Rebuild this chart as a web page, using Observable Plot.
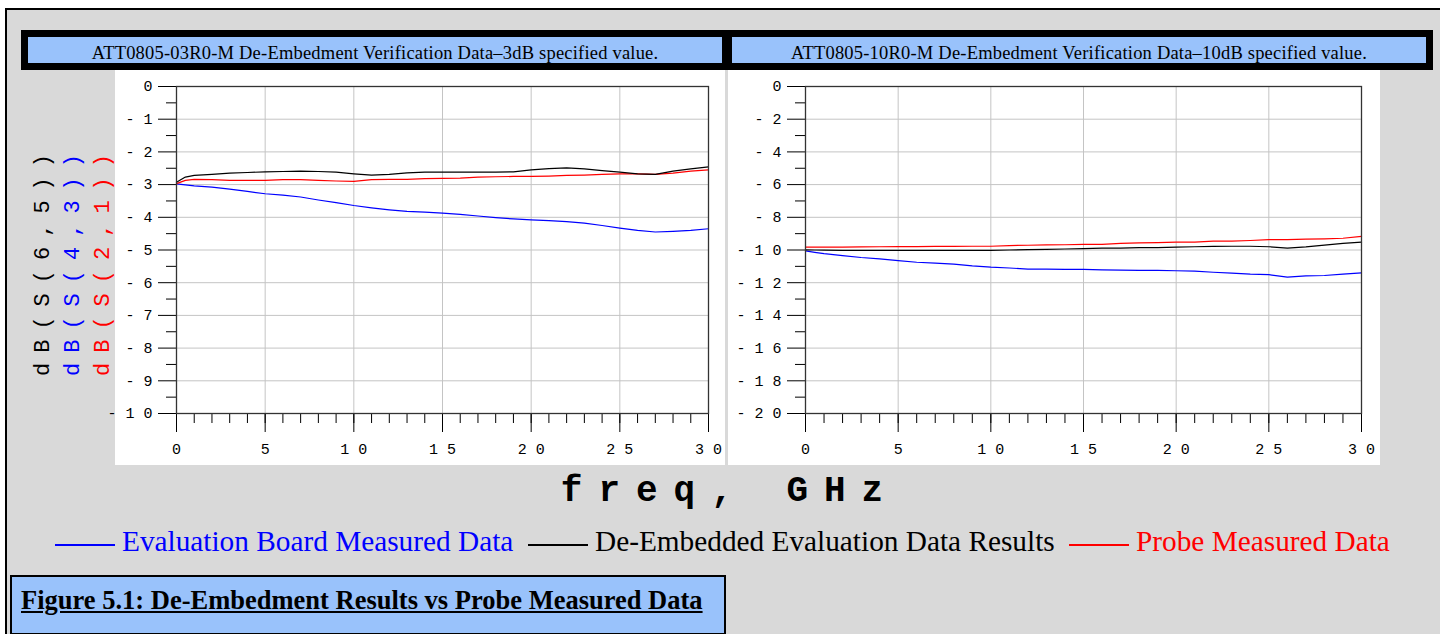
<!DOCTYPE html>
<html>
<head>
<meta charset="utf-8">
<script src="https://cdn.jsdelivr.net/npm/d3@7"></script>
<script src="https://cdn.jsdelivr.net/npm/@observablehq/plot@0.6"></script>
<style>
  html, body { margin: 0; padding: 0; background: #fff; }
  #page { position: relative; width: 1440px; height: 634px; overflow: hidden; }
  #frame { position: absolute; left: 5px; top: 8px; width: 1440px; height: 640px; background: #d9d9d9; border: 2px solid #000; box-sizing: border-box; }
  .abs { position: absolute; }
  #titlebar { left: 21px; top: 30px; width: 1412px; height: 40px; background: #000; }
  .tbar { top: 37px; height: 26px; width: 694px; background: #99c2fb; font-family: "Liberation Serif", "Times New Roman", serif; font-size: 18.5px; letter-spacing: 0.2px; line-height: 26px; padding-top: 3px; box-sizing: border-box; text-align: center; color: #000; white-space: nowrap; overflow: hidden; }
  .ylab { font-family: "Liberation Mono", monospace; font-size: 22px; letter-spacing: 10px; white-space: nowrap; transform: translate(-50%, -50%) rotate(-90deg); }
  #freq { left: 5px; width: 1450px; top: 474px; text-align: center; font-family: "Liberation Mono", monospace; font-weight: bold; font-size: 36px; line-height: 36px; letter-spacing: 16px; white-space: pre; color: #000; }
  .leg { top: 524px; font-family: "Liberation Serif", "Times New Roman", serif; font-size: 29.3px; line-height: 34px; white-space: nowrap; }
  .leg .sw { display: inline-block; width: 60px; height: 2px; vertical-align: middle; margin-right: 7px; position: relative; top: 1px; }
  #caption { left: 10px; top: 575px; width: 716px; height: 60px; background: #99c2fb; border: 2px solid #000; box-sizing: border-box; font-family: "Liberation Serif", "Times New Roman", serif; font-weight: bold; font-size: 26.5px; line-height: 30px; padding-left: 9px; padding-top: 8px; text-decoration: underline; white-space: nowrap; }
</style>
</head>
<body>
<div id="page">
  <div id="frame"></div>
  <div id="titlebar" class="abs"></div>
  <div class="abs tbar" style="left:28px">ATT0805-03R0-M De-Embedment Verification Data–3dB specified value.</div>
  <div class="abs tbar" style="left:732px">ATT0805-10R0-M De-Embedment Verification Data–10dB specified value.</div>
  <div id="chartL" class="abs" style="left:115px; top:70px"></div>
  <div id="chartR" class="abs" style="left:728px; top:70px"></div>
  <div class="abs ylab" style="left:43px; top:260px; color:#000">dB(S(6,5))</div>
  <div class="abs ylab" style="left:73px; top:260px; color:#0000ff">dB(S(4,3))</div>
  <div class="abs ylab" style="left:103px; top:260px; color:#ff0000">dB(S(2,1))</div>
  <div id="freq" class="abs">freq, GHz</div>
  <div class="abs leg" style="left:55px; color:#0000ff"><span class="sw" style="background:#0000ff"></span>Evaluation Board Measured Data</div>
  <div class="abs leg" style="left:528px; color:#000"><span class="sw" style="background:#000"></span>De-Embedded Evaluation Data Results</div>
  <div class="abs leg" style="left:1069px; color:#ff0000"><span class="sw" style="background:#ff0000"></span>Probe Measured Data</div>
  <div id="caption" class="abs">Figure 5.1: De-Embedment Results vs Probe Measured Data</div>
</div>
<script>
// Frequency samples (GHz)
const freq = [0, 0.5, 1, 2, 3, 4, 5, 6, 7, 8, 9, 10, 11, 12, 13, 14, 15, 16, 17, 18, 19, 20, 21, 22, 23, 24, 25, 26, 27, 28, 29, 30];

// Left chart: ATT0805-03R0-M (3 dB)
const leftBlue  = [-2.98, -3.01, -3.04, -3.08, -3.14, -3.21, -3.28, -3.32, -3.38, -3.47, -3.55, -3.64, -3.71, -3.77, -3.82, -3.84, -3.87, -3.91, -3.96, -4.01, -4.05, -4.08, -4.10, -4.13, -4.18, -4.25, -4.33, -4.40, -4.45, -4.43, -4.40, -4.35];
const leftBlack = [-2.93, -2.77, -2.72, -2.69, -2.65, -2.63, -2.61, -2.60, -2.59, -2.60, -2.62, -2.67, -2.71, -2.69, -2.64, -2.62, -2.62, -2.62, -2.62, -2.62, -2.61, -2.55, -2.51, -2.49, -2.52, -2.57, -2.62, -2.67, -2.69, -2.59, -2.52, -2.46];
const leftRed   = [-2.97, -2.87, -2.84, -2.85, -2.87, -2.87, -2.87, -2.85, -2.85, -2.87, -2.89, -2.90, -2.85, -2.84, -2.84, -2.82, -2.81, -2.80, -2.77, -2.76, -2.75, -2.75, -2.74, -2.72, -2.71, -2.69, -2.67, -2.67, -2.69, -2.65, -2.59, -2.55];

// Right chart: ATT0805-10R0-M (10 dB)
const rightBlue  = [-10.05, -10.14, -10.22, -10.34, -10.46, -10.54, -10.65, -10.75, -10.80, -10.86, -10.97, -11.05, -11.10, -11.17, -11.17, -11.19, -11.19, -11.21, -11.23, -11.25, -11.25, -11.27, -11.29, -11.36, -11.42, -11.48, -11.51, -11.66, -11.58, -11.56, -11.47, -11.40];
const rightBlack = [-9.99, -10.00, -10.01, -10.02, -10.02, -10.02, -10.02, -10.02, -10.02, -10.02, -10.02, -10.02, -10.00, -9.98, -9.96, -9.94, -9.91, -9.89, -9.88, -9.86, -9.85, -9.82, -9.80, -9.78, -9.77, -9.77, -9.80, -9.88, -9.81, -9.70, -9.60, -9.52];
const rightRed   = [-9.83, -9.83, -9.83, -9.82, -9.81, -9.80, -9.79, -9.79, -9.78, -9.78, -9.77, -9.77, -9.73, -9.71, -9.69, -9.68, -9.66, -9.66, -9.60, -9.56, -9.55, -9.52, -9.52, -9.46, -9.46, -9.42, -9.36, -9.36, -9.34, -9.32, -9.28, -9.17];

// Tick values
const xMajor = [0, 5, 10, 15, 20, 25, 30];
const xMinor = d3.range(0, 31, 1);
const leftYMajor = [0, -1, -2, -3, -4, -5, -6, -7, -8, -9, -10];
const leftYMinor = [-0.5, -1.5, -2.5, -3.5, -4.5, -5.5, -6.5, -7.5, -8.5, -9.5];
const rightYMajor = [0, -2, -4, -6, -8, -10, -12, -14, -16, -18, -20];
const rightYMinor = [-1, -3, -5, -7, -9, -11, -13, -15, -17, -19];

const colors = { blue: "#0000ff", black: "#000000", red: "#ff0000" };

function fmt(d) {
  const s = String(Math.abs(d)).split("").join(" ");
  return d < 0 ? "- " + s : s;
}

function series(arr) { return freq.map((f, i) => ({ f, v: arr[i] })); }

function chart({ width, marginLeft, marginRight, yDomain, yMajor, yMinor, blue, black, red }) {
  return Plot.plot({
    width, height: 395,
    marginLeft, marginRight, marginTop: 16, marginBottom: 52,
    style: { background: "#fff", fontFamily: "'Liberation Mono', monospace", fontSize: "15px", color: "#000", overflow: "visible" },
    x: { domain: [0, 30] },
    y: { domain: yDomain },
    marks: [
      Plot.gridX(xMajor, { stroke: "#c4c4c4", strokeOpacity: 1 }),
      Plot.gridY(yMajor, { stroke: "#c4c4c4", strokeOpacity: 1 }),
      Plot.axisX(xMinor, { tickSize: 10, tickFormat: () => "", label: null }),
      Plot.axisX(xMajor, { tickSize: 19, tickPadding: 11, tickFormat: fmt, label: null }),
      Plot.axisY(yMinor, { tickSize: 10, tickFormat: () => "", label: null }),
      Plot.axisY(yMajor, { tickSize: 18, tickPadding: 6, tickFormat: fmt, label: null }),
      Plot.line(series(blue), { x: "f", y: "v", stroke: colors.blue, strokeWidth: 1.2 }),
      Plot.line(series(red), { x: "f", y: "v", stroke: colors.red, strokeWidth: 1.2 }),
      Plot.line(series(black), { x: "f", y: "v", stroke: colors.black, strokeWidth: 1.2 }),
      Plot.frame({ stroke: "#333", strokeWidth: 1.3 })
    ]
  });
}

document.getElementById("chartL").append(chart({
  width: 610, marginLeft: 61, marginRight: 17,
  yDomain: [-10, 0], yMajor: leftYMajor, yMinor: leftYMinor,
  blue: leftBlue, black: leftBlack, red: leftRed
}));
document.getElementById("chartR").append(chart({
  width: 652, marginLeft: 77, marginRight: 19,
  yDomain: [-20, 0], yMajor: rightYMajor, yMinor: rightYMinor,
  blue: rightBlue, black: rightBlack, red: rightRed
}));
</script>
</body>
</html>
